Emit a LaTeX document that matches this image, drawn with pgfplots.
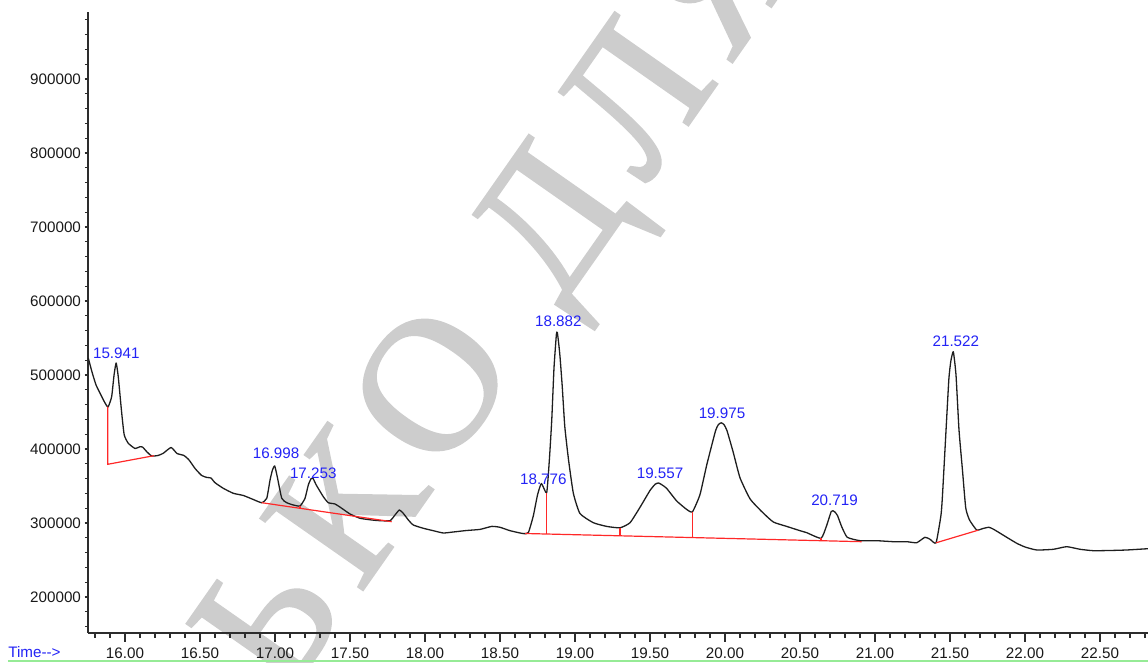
\documentclass[border=0pt]{standalone}
\usepackage{pgfplots}
\pgfplotsset{compat=1.18}
\usepackage{fontspec}
\setmainfont{Liberation Sans}
\newfontfamily\wmfont[LetterSpace=11, FakeBold=1.5]{Liberation Serif}

\definecolor{peakblue}{RGB}{35,35,245}
\definecolor{trace}{RGB}{30,30,30}
\definecolor{intred}{RGB}{255,40,40}
\definecolor{wmgrey}{RGB}{205,205,205}
\definecolor{frame}{RGB}{45,45,45}
\definecolor{statusgreen}{RGB}{150,235,150}

\begin{document}
\begin{tikzpicture}[font=\fontsize{7.6}{9}\selectfont]
% watermark behind the chromatogram
\node[overlay, text=wmgrey, rotate=55, inner sep=0pt]
  at (211pt,164pt) {\wmfont\fontsize{95}{95}\selectfont ЬКО ДЛЯ};

\begin{axis}[
  name=ax, at={(0,0)}, anchor=south west,
  scale only axis, width=530pt, height=310.5pt,
  xmin=15.7533, xmax=22.82, ymin=151352, ymax=990541,
  axis x line=bottom, axis y line=left,
  axis line style={-, draw=frame, line width=0.75pt},
  tick align=outside,
  every tick/.style={draw=frame, line width=0.6pt},
  major tick length=4.5pt, minor tick length=2.5pt,
  ytick style={/pgfplots/major tick length=1.6pt, /pgfplots/minor tick length=1.6pt},
  xtick={16,16.5,17,17.5,18,18.5,19,19.5,20,20.5,21,21.5,22,22.5},
  xticklabels={16.00,16.50,17.00,17.50,18.00,18.50,19.00,19.50,20.00,20.50,21.00,21.50,22.00,22.50},
  minor xtick={15.8,15.9,...,22.85},
  ytick={200000,300000,400000,500000,600000,700000,800000,900000},
  yticklabels={200000,300000,400000,500000,600000,700000,800000,900000},
  minor ytick={160000,180000,...,985000},
  tick label style={text=black!90},
  yticklabel style={xshift=4.5pt},
  xticklabel style={yshift=0.5pt},
]

% total ion current trace
\addplot[trace, line width=0.65pt, line join=round, smooth, tension=0.3] coordinates {
(15.755,522974) (15.780,504055) (15.807,486487) (15.845,470677) (15.867,462163)
(15.887,456758) (15.911,470677) (15.927,500001) (15.941,516217) (15.955,497703)
(15.978,448649) (15.995,418920) (16.022,407704) (16.067,400677) (16.100,403109)
(16.117,402703) (16.145,396351) (16.178,390541) (16.220,391217) (16.255,394189)
(16.307,402028) (16.347,393920) (16.393,391217) (16.427,385136) (16.467,373650)
(16.511,364190) (16.547,361487) (16.573,360812) (16.600,354460) (16.655,346893)
(16.722,340136) (16.789,337163) (16.855,331758) (16.911,327433) (16.945,333379)
(16.967,358109) (16.983,371622) (16.998,377028) (17.015,362568) (17.045,333379)
(17.078,327433) (17.122,324325) (17.167,322974) (17.200,333379) (17.222,351352)
(17.240,359800) (17.253,360500) (17.275,351352) (17.322,335541) (17.355,327433)
(17.400,325677) (17.445,319866) (17.500,312163) (17.567,306352) (17.645,304055)
(17.700,303109) (17.767,303109) (17.800,310812) (17.829,317568) (17.855,313109)
(17.889,304055) (17.922,297298) (17.989,292839) (18.055,289595) (18.122,286487)
(18.189,287839) (18.278,289866) (18.367,291352) (18.445,295406) (18.500,294190)
(18.567,289595) (18.655,285677) (18.689,287163) (18.722,309595) (18.750,337839)
(18.776,353379) (18.811,340812) (18.829,385136) (18.845,439190) (18.860,509595)
(18.876,555000) (18.882,557433) (18.890,545000) (18.900,525000) (18.915,484190)
(18.932,430136) (18.957,385136) (18.989,340136) (19.033,312839) (19.122,300406)
(19.211,295406) (19.300,293514) (19.367,300406) (19.433,321082) (19.500,343920)
(19.535,352500) (19.557,354055) (19.580,351500) (19.611,346758) (19.678,329731)
(19.745,318244) (19.783,315136) (19.833,338244) (19.878,378244) (19.936,423920)
(19.956,433000) (19.975,435406) (19.993,433000) (20.013,425000) (20.055,395406)
(20.100,361082) (20.167,332568) (20.245,315406) (20.322,301352) (20.411,295406)
(20.500,289595) (20.545,286893) (20.640,279325) (20.675,295001) (20.708,315500)
(20.719,316622) (20.732,315000) (20.750,310000) (20.778,295001) (20.815,280677)
(20.900,276082) (21.011,276082) (21.122,274731) (21.211,274731) (21.278,273379)
(21.333,280677) (21.367,277974) (21.407,273244) (21.440,310812) (21.450,337839)
(21.470,412163) (21.492,493244) (21.505,517974) (21.522,531487) (21.540,500001)
(21.560,425677) (21.583,371622) (21.605,320271) (21.630,304055) (21.678,290541)
(21.720,292568) (21.760,294190) (21.793,291217) (21.878,280677) (21.945,272568)
(22.000,267568) (22.078,263514) (22.189,264460) (22.278,267974) (22.367,264460)
(22.455,262568) (22.567,262838) (22.678,263514) (22.820,265271)
};

% integration baselines and peak splits
\addplot[intred, line width=0.6pt] coordinates {(15.885,457163) (15.885,379325) (16.193,390947)};
\addplot[intred, line width=0.6pt] coordinates {(16.911,327433) (17.778,301758)};
\addplot[intred, line width=0.6pt] coordinates {(17.167,322974) (17.167,319866)};
\addplot[intred, line width=0.6pt] coordinates {(18.667,285812) (20.911,274731)};
\addplot[intred, line width=0.6pt] coordinates {(18.811,340812) (18.811,285096)};
\addplot[intred, line width=0.6pt] coordinates {(19.300,293514) (19.300,282706)};
\addplot[intred, line width=0.6pt] coordinates {(19.783,315136) (19.783,280273)};
\addplot[intred, line width=0.6pt] coordinates {(20.640,279325) (20.640,277299)};
\addplot[intred, line width=0.6pt] coordinates {(21.407,273244) (21.689,290352)};

% retention time labels
\begin{scope}[every node/.style={text=peakblue, inner sep=0pt}]
\node at (axis cs:15.942,529730) {15.941};
\node at (axis cs:17.007,393920) {16.998};
\node at (axis cs:17.255,367162) {17.253};
\node at (axis cs:18.789,359460) {18.776};
\node at (axis cs:18.889,572027) {18.882};
\node at (axis cs:19.567,367162) {19.557};
\node at (axis cs:19.980,448244) {19.975};
\node at (axis cs:20.730,331082) {20.719};
\node at (axis cs:21.539,545000) {21.522};
\end{scope}
\end{axis}

% window status line
\node[anchor=west, text=peakblue, inner sep=0pt] at (-40pt,-9.5pt) {Time-{}-{}>};
\draw[statusgreen, line width=0.8pt] (-40pt,-14pt) -- (530pt,-14pt);

\pgfresetboundingbox
\path (-44pt,-15pt) rectangle (530pt,316.5pt);
\end{tikzpicture}
\end{document}
